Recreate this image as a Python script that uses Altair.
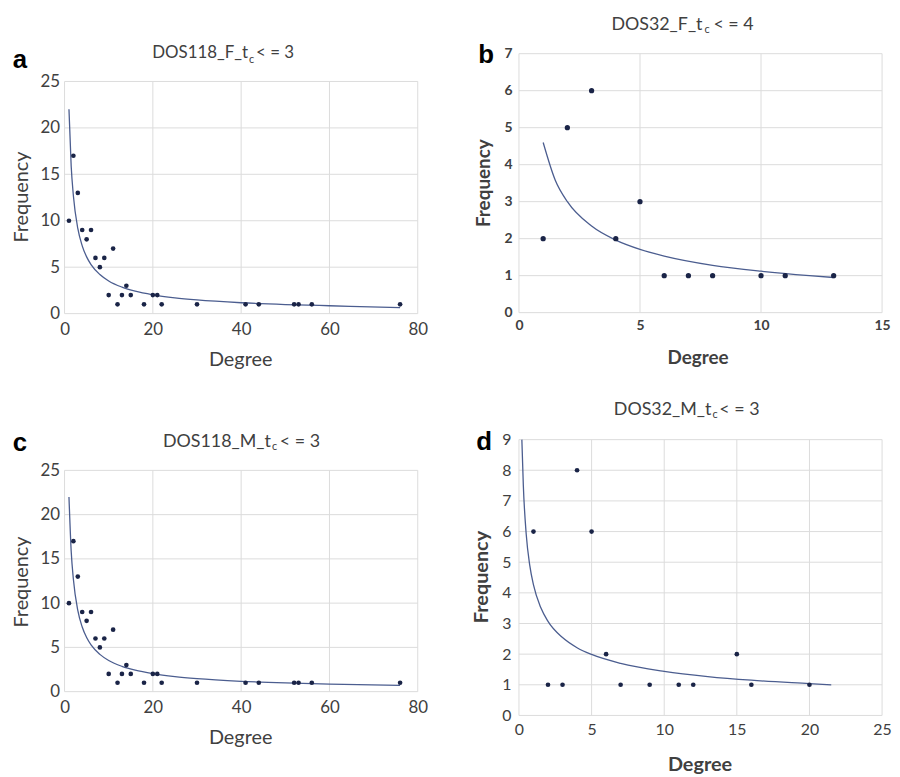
import altair as alt
import pandas as pd

# ---------------- data ----------------
a_deg = [1, 2, 3, 4, 5, 6, 7, 8, 9, 10, 11, 12, 13, 14, 15, 18, 20, 21, 22, 30, 41, 44, 52, 53, 56, 76]
a_freq = [10, 17, 13, 9, 8, 9, 6, 5, 6, 2, 7, 1, 2, 3, 2, 1, 2, 2, 1, 1, 1, 1, 1, 1, 1, 1]
a_fit_x = [1, 1.5, 2, 3, 4, 5, 6, 8, 10, 13, 16, 20, 25, 30, 40, 50, 60, 76]
a_fit_y = [22, 15.9, 12.7, 9.17, 7.30, 6.11, 5.28, 4.21, 3.52, 2.86, 2.42, 2.03, 1.70, 1.47, 1.17, 0.98, 0.85, 0.65]
a_xticks = [0, 20, 40, 60, 80]
a_yticks = [0, 5, 10, 15, 20, 25]

b_deg = [1, 2, 3, 4, 5, 6, 7, 8, 10, 11, 13]
b_freq = [2, 5, 6, 2, 3, 1, 1, 1, 1, 1, 1]
b_fit_x = [1, 1.5, 2, 3, 4, 5, 6, 8, 10, 12, 13]
b_fit_y = [4.6, 3.58, 3.0, 2.34, 1.96, 1.71, 1.53, 1.28, 1.12, 1.0, 0.95]
b_xticks = [0, 5, 10, 15]
b_yticks = [0, 1, 2, 3, 4, 5, 6, 7]

c_deg = [1, 2, 3, 4, 5, 6, 7, 8, 9, 10, 11, 12, 13, 14, 15, 18, 20, 21, 22, 30, 41, 44, 52, 53, 56, 76]
c_freq = [10, 17, 13, 9, 8, 9, 6, 5, 6, 2, 7, 1, 2, 3, 2, 1, 2, 2, 1, 1, 1, 1, 1, 1, 1, 1]
c_fit_x = [1, 1.5, 2, 3, 4, 5, 6, 8, 10, 13, 16, 20, 25, 30, 40, 50, 60, 76]
c_fit_y = [22, 15.9, 12.7, 9.17, 7.30, 6.11, 5.28, 4.21, 3.52, 2.86, 2.42, 2.03, 1.70, 1.47, 1.17, 0.98, 0.85, 0.70]
c_xticks = [0, 20, 40, 60, 80]
c_yticks = [0, 5, 10, 15, 20, 25]

d_deg = [1, 2, 3, 4, 5, 6, 7, 9, 11, 12, 15, 16, 20]
d_freq = [6, 1, 1, 8, 6, 2, 1, 1, 1, 1, 2, 1, 1]
d_fit_x = [0.2, 0.3, 0.5, 0.75, 1, 1.5, 2, 3, 4, 5, 7, 10, 13, 16, 20, 21.5]
d_fit_y = [9.0, 7.52, 5.91, 4.88, 4.26, 3.52, 3.07, 2.54, 2.21, 1.99, 1.70, 1.44, 1.27, 1.15, 1.04, 1.0]
d_xticks = [0, 5, 10, 15, 20, 25]
d_yticks = [0, 1, 2, 3, 4, 5, 6, 7, 8, 9]

titles = {
    "a": ("DOS118_F_t", "c", "< = 3"),
    "b": ("DOS32_F_t", "c", "< = 4"),
    "c": ("DOS118_M_t", "c", "< = 3"),
    "d": ("DOS32_M_t", "c", "< = 3"),
}

# ---------------- styles ----------------
FONT = "Lato"
GRID = "#dcdcdc"
TXT = "#404040"
NAVY = "#1a2447"
LINE = "#4b5d8f"

one = pd.DataFrame({"k": [0]})


def spacer(h):
    return alt.Chart(one).mark_text(text="").encode(
        x=alt.value(0), y=alt.value(0)).properties(width=10, height=h)


def panel(letter, deg, freq, fit_x, fit_y, xticks, yticks, width, height,
          tick_size, tick_weight, at_size, at_weight, ytitle_xy, xtitle_xy,
          title_pos, title_size, letter_pos, point_size, pad_x, pad_y):
    xmax = xticks[-1]
    ymax = yticks[-1]
    xs = alt.Scale(domain=[0, xmax], nice=False, zero=False)
    ys = alt.Scale(domain=[0, ymax], nice=False, zero=False)
    xaxis = alt.Axis(values=xticks, grid=False, domain=False, ticks=False,
                     labelFont=FONT, labelFontSize=tick_size, labelFontWeight=tick_weight,
                     labelColor=TXT, labelPadding=pad_x, labelFlush=False, labelOverlap=False,
                     title="Degree", titleFont=FONT, titleFontSize=at_size,
                     titleFontWeight=at_weight, titleColor=TXT,
                     titleX=xtitle_xy[0], titleY=xtitle_xy[1], titleBaseline="middle",
                     titleAlign="center", format="d")
    yaxis = alt.Axis(values=yticks, grid=False, domain=False, ticks=False,
                     labelFont=FONT, labelFontSize=tick_size, labelFontWeight=tick_weight,
                     labelColor=TXT, labelPadding=pad_y, labelFlush=False, labelOverlap=False,
                     title="Frequency", titleFont=FONT, titleFontSize=at_size,
                     titleFontWeight=at_weight, titleColor=TXT,
                     titleX=ytitle_xy[0], titleY=ytitle_xy[1], titleBaseline="middle",
                     titleAlign="center", titleAngle=270, format="d")

    def X(f):
        return alt.X(f, type="quantitative", scale=xs, axis=xaxis)

    def Y(f):
        return alt.Y(f, type="quantitative", scale=ys, axis=yaxis)

    vg = alt.Chart(pd.DataFrame({"gx": xticks, "g0": [0] * len(xticks),
                                 "g1": [ymax] * len(xticks)})).mark_rule(
        color=GRID, strokeWidth=1).encode(x=X("gx"), y=Y("g0"), y2="g1")
    hg = alt.Chart(pd.DataFrame({"gy": yticks, "h0": [0] * len(yticks),
                                 "h1": [xmax] * len(yticks)})).mark_rule(
        color=GRID, strokeWidth=1).encode(y=Y("gy"), x=X("h0"), x2="h1")
    fit = alt.Chart(pd.DataFrame({"fx": fit_x, "fy": fit_y})).mark_line(
        color=LINE, strokeWidth=1.3, interpolate="monotone").encode(x=X("fx"), y=Y("fy"))
    pts = alt.Chart(pd.DataFrame({"deg": deg, "freq": freq})).mark_circle(
        color=NAVY, size=point_size, opacity=1).encode(x=X("deg"), y=Y("freq"))

    p1, p2, p3 = titles[letter]
    (x1, y1), (x2, y2), (x3, y3) = title_pos
    t1 = alt.Chart(one).mark_text(text=p1, align="right", baseline="middle", font=FONT,
                                  fontSize=title_size, color=TXT).encode(
        x=alt.value(x1), y=alt.value(y1))
    t2 = alt.Chart(one).mark_text(text=p2, align="left", baseline="middle", font=FONT,
                                  fontSize=11, color=TXT).encode(x=alt.value(x2), y=alt.value(y2))
    t3 = alt.Chart(one).mark_text(text=p3, align="left", baseline="middle", font=FONT,
                                  fontSize=title_size, color=TXT).encode(
        x=alt.value(x3), y=alt.value(y3))
    lt = alt.Chart(one).mark_text(text=letter, align="center", baseline="middle",
                                  font="Liberation Sans", fontWeight="bold", fontSize=26,
                                  color="#000000").encode(x=alt.value(letter_pos[0]),
                                                          y=alt.value(letter_pos[1]))
    return alt.layer(vg, hg, fit, pts, t1, t2, t3, lt).properties(width=width, height=height)


pa = panel("a", a_deg, a_freq, a_fit_x, a_fit_y, a_xticks, a_yticks, 356, 234,
           17, "normal", 20, "normal", (-43, 116), (177, 46),
           ((185, -29), (186, -22), (193, -29)), 17, (-45, -22), 22, 8, 5)
pb = panel("b", b_deg, b_freq, b_fit_x, b_fit_y, b_xticks, b_yticks, 366, 261,
           14, "bold", 19, "bold", (-36, 130), (180, 45),
           ((185, -29), (187, -24), (196, -29)), 18, (-33, 1), 28, 6, 7)
pc = panel("c", c_deg, c_freq, c_fit_x, c_fit_y, c_xticks, c_yticks, 356, 223,
           17, "normal", 20, "normal", (-43, 112), (177, 46),
           ((208, -29), (209, -24), (217, -29)), 18, (-45, -28), 22, 8, 5)
pd_ = panel("d", d_deg, d_freq, d_fit_x, d_fit_y, d_xticks, d_yticks, 366, 278,
            16, "normal", 20, "bold", (-38, 138), (182, 49),
            ((194, -30), (195, -25), (202, -30)), 18, (-35, 2), 22, 6, 8)

col1 = alt.vconcat(spacer(28), pa, spacer(158), pc, spacing=0, bounds="flush")
col2 = alt.vconcat(pb, spacer(128), pd_, spacing=0, bounds="flush")

# with flush bounds the nested column counts as zero-width, so the spacing
# carries the whole distance between the two plot-area left edges
chart = alt.hconcat(col1, col2, spacing=458, bounds="flush").properties(
    padding={"left": 4, "top": 5, "right": 0, "bottom": 0},
    background="white",
).configure_view(stroke=None)

chart.save("out.html", embed_options={"renderer": "svg", "actions": False})
